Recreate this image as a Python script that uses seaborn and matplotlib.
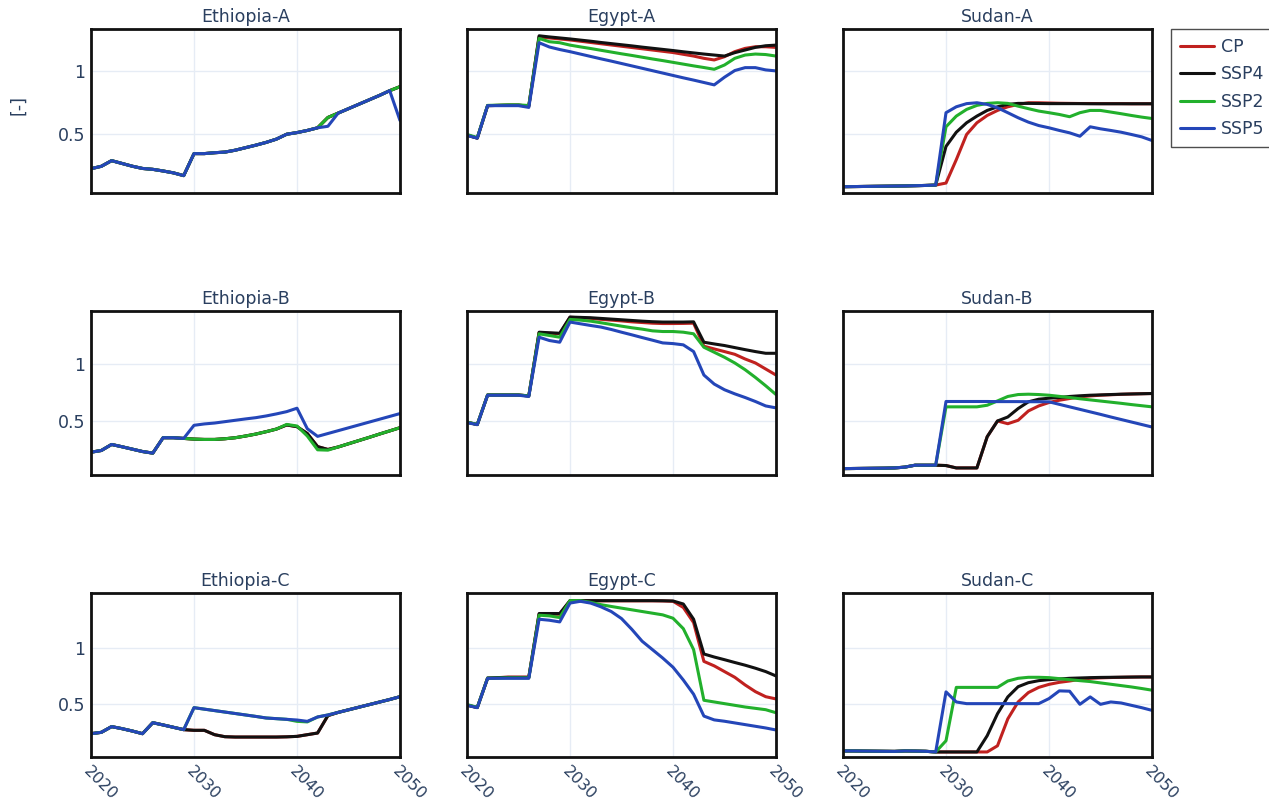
import pandas as pd
import seaborn as sns
import matplotlib.pyplot as plt

years = list(range(2020, 2051))
scenarios = ["CP", "SSP4", "SSP2", "SSP5"]
colors = ["#c0211f", "#111111", "#22b02c", "#2446b8"]

# Ethiopia-A
eth_a_ssp5 = [0.223, 0.242, 0.287, 0.265, 0.243, 0.225, 0.218, 0.205, 0.19, 0.168,
              0.343, 0.343, 0.35, 0.355, 0.37, 0.39, 0.41, 0.432, 0.458, 0.497,
              0.51, 0.527, 0.548, 0.56, 0.665, 0.7, 0.735, 0.77, 0.805, 0.843, 0.606]
eth_a_ssp2 = eth_a_ssp5[:23] + [0.63] + eth_a_ssp5[24:30] + [0.875]
eth_a_ssp4 = list(eth_a_ssp2)
eth_a_cp = list(eth_a_ssp2)

# Egypt-A
egy_a_ssp5 = [0.487, 0.466, 0.724, 0.724, 0.724, 0.724, 0.71, 1.224, 1.19, 1.17,
              1.153, 1.134, 1.115, 1.096, 1.078, 1.059, 1.04, 1.021, 1.002, 0.983,
              0.964, 0.945, 0.927, 0.908, 0.889, 0.95, 1.003, 1.026, 1.026, 1.008, 1.0]
egy_a_ssp2 = [0.495, 0.47, 0.726, 0.728, 0.73, 0.73, 0.725, 1.258, 1.232, 1.224,
              1.205, 1.191, 1.178, 1.164, 1.15, 1.136, 1.123, 1.109, 1.095, 1.082,
              1.068, 1.054, 1.04, 1.027, 1.013, 1.047, 1.1, 1.126, 1.134, 1.13, 1.118]
egy_a_ssp4 = [0.49, 0.466, 0.724, 0.726, 0.728, 0.728, 0.72, 1.279, 1.27, 1.262,
              1.254, 1.245, 1.236, 1.226, 1.217, 1.208, 1.199, 1.189, 1.18, 1.171,
              1.162, 1.152, 1.143, 1.134, 1.126, 1.118, 1.145, 1.166, 1.187, 1.2, 1.205]
egy_a_cp = [0.49, 0.466, 0.724, 0.726, 0.728, 0.728, 0.72, 1.27, 1.262, 1.254,
            1.246, 1.236, 1.226, 1.216, 1.206, 1.196, 1.186, 1.176, 1.166, 1.156,
            1.146, 1.132, 1.118, 1.1, 1.087, 1.113, 1.153, 1.179, 1.192, 1.192, 1.187]

# Sudan-A
sud_a_early = [0.08, 0.081, 0.082, 0.083, 0.084, 0.085, 0.086, 0.088, 0.09, 0.093]
sud_a_ssp5 = sud_a_early + [0.668, 0.715, 0.74, 0.747, 0.734, 0.707, 0.668, 0.628, 0.593, 0.566,
                            0.548, 0.527, 0.508, 0.481, 0.556, 0.54, 0.527, 0.513, 0.495, 0.476, 0.447]
sud_a_ssp2 = sud_a_early + [0.556, 0.641, 0.694, 0.726, 0.742, 0.747, 0.742, 0.72, 0.7, 0.681,
                            0.668, 0.654, 0.636, 0.668, 0.686, 0.686, 0.673, 0.66, 0.646, 0.633, 0.622]
sud_a_ssp4 = sud_a_early + [0.40, 0.513, 0.588, 0.641, 0.686, 0.715, 0.734, 0.742, 0.742, 0.741,
                            0.74, 0.74, 0.74, 0.74, 0.739, 0.739, 0.739, 0.739, 0.739, 0.739, 0.739]
sud_a_cp = sud_a_early + [0.109, 0.295, 0.495, 0.588, 0.646, 0.686, 0.715, 0.734, 0.747, 0.747,
                          0.745, 0.743, 0.742, 0.741, 0.741, 0.74, 0.74, 0.74, 0.739, 0.739, 0.739]

# Ethiopia-B
eth_b_ssp5 = [0.226, 0.241, 0.294, 0.274, 0.253, 0.232, 0.218, 0.353, 0.353, 0.347,
              0.462, 0.474, 0.482, 0.494, 0.506, 0.518, 0.529, 0.544, 0.562, 0.582,
              0.612, 0.432, 0.365, 0.39, 0.415, 0.44, 0.465, 0.49, 0.515, 0.54, 0.565]
eth_b_ssp2 = eth_b_ssp5[:10] + [0.341, 0.338, 0.338, 0.344, 0.353, 0.368, 0.385, 0.406, 0.429, 0.47,
                                0.456, 0.368, 0.247, 0.244, 0.272, 0.3, 0.328, 0.356, 0.385, 0.413, 0.441]
eth_b_ssp4 = eth_b_ssp2[:19] + [0.465, 0.45, 0.39, 0.275, 0.25] + eth_b_ssp2[24:]
eth_b_cp = list(eth_b_ssp4)

# Egypt-B
egy_b_ssp5 = [0.485, 0.468, 0.726, 0.726, 0.726, 0.726, 0.715, 1.235, 1.206, 1.191,
              1.368, 1.353, 1.338, 1.324, 1.303, 1.279, 1.256, 1.232, 1.209, 1.185,
              1.179, 1.168, 1.109, 0.903, 0.824, 0.774, 0.738, 0.706, 0.671, 0.632, 0.615]
egy_b_ssp2 = [0.49, 0.47, 0.728, 0.728, 0.728, 0.728, 0.72, 1.265, 1.25, 1.235,
              1.391, 1.385, 1.376, 1.362, 1.347, 1.332, 1.318, 1.306, 1.291, 1.285,
              1.285, 1.279, 1.265, 1.147, 1.103, 1.059, 1.009, 0.95, 0.882, 0.809, 0.732]
egy_b_ssp4 = [0.49, 0.468, 0.728, 0.728, 0.728, 0.728, 0.72, 1.279, 1.274, 1.27,
              1.412, 1.409, 1.406, 1.4, 1.394, 1.388, 1.382, 1.376, 1.371, 1.368,
              1.368, 1.368, 1.37, 1.191, 1.176, 1.162, 1.144, 1.126, 1.109, 1.094, 1.094]
egy_b_cp = [0.49, 0.468, 0.728, 0.728, 0.728, 0.728, 0.72, 1.275, 1.27, 1.265,
            1.41, 1.405, 1.4, 1.392, 1.385, 1.378, 1.37, 1.364, 1.358, 1.355,
            1.355, 1.356, 1.358, 1.156, 1.132, 1.109, 1.085, 1.044, 1.009, 0.956, 0.903]

# Sudan-B
sud_b_early = [0.082, 0.083, 0.084, 0.085, 0.086, 0.088, 0.095, 0.112, 0.112, 0.112]
sud_b_ssp5 = sud_b_early + [0.671, 0.671, 0.671, 0.671, 0.671, 0.67, 0.67, 0.67, 0.669, 0.669,
                            0.668, 0.646, 0.624, 0.602, 0.58, 0.558, 0.535, 0.513, 0.491, 0.469, 0.447]
sud_b_ssp2 = sud_b_early + [0.624, 0.624, 0.624, 0.624, 0.638, 0.676, 0.715, 0.732, 0.735, 0.732,
                            0.726, 0.716, 0.706, 0.695, 0.685, 0.675, 0.665, 0.655, 0.644, 0.634, 0.624]
sud_b_ssp4 = sud_b_early + [0.109, 0.088, 0.088, 0.088, 0.362, 0.5, 0.535, 0.609, 0.668, 0.691,
                            0.7, 0.706, 0.715, 0.721, 0.726, 0.729, 0.732, 0.735, 0.737, 0.739, 0.741]
sud_b_cp = sud_b_early + [0.109, 0.088, 0.088, 0.088, 0.362, 0.5, 0.476, 0.506, 0.588, 0.632,
                          0.662, 0.682, 0.697, 0.712, 0.72, 0.726, 0.73, 0.734, 0.737, 0.739, 0.741]

# Ethiopia-C
eth_c_ssp5 = [0.235, 0.247, 0.298, 0.28, 0.259, 0.235, 0.333, 0.313, 0.292, 0.271,
              0.467, 0.454, 0.441, 0.428, 0.415, 0.402, 0.389, 0.375, 0.369, 0.363,
              0.357, 0.345, 0.384, 0.402, 0.425, 0.448, 0.471, 0.494, 0.517, 0.54, 0.565]
eth_c_ssp2 = eth_c_ssp5[:20] + [0.345, 0.34] + eth_c_ssp5[22:]
eth_c_ssp4 = eth_c_ssp5[:10] + [0.265, 0.265, 0.226, 0.208, 0.205, 0.205, 0.205, 0.205, 0.205, 0.207,
                                0.211, 0.226, 0.241, 0.396, 0.425, 0.448, 0.471, 0.494, 0.517, 0.54, 0.565]
eth_c_cp = list(eth_c_ssp4)

# Egypt-C
egy_c_ssp5 = [0.488, 0.467, 0.729, 0.729, 0.729, 0.729, 0.729, 1.256, 1.247, 1.232,
              1.4, 1.416, 1.4, 1.367, 1.325, 1.262, 1.166, 1.06, 0.985, 0.91,
              0.828, 0.714, 0.587, 0.392, 0.358, 0.346, 0.331, 0.316, 0.301, 0.286, 0.268]
egy_c_ssp2 = [0.495, 0.47, 0.731, 0.731, 0.733, 0.733, 0.733, 1.292, 1.286, 1.271,
              1.422, 1.422, 1.407, 1.386, 1.37, 1.355, 1.34, 1.325, 1.31, 1.295,
              1.265, 1.172, 0.985, 0.533, 0.518, 0.503, 0.488, 0.473, 0.461, 0.449, 0.422]
egy_c_ssp4 = [0.49, 0.468, 0.731, 0.735, 0.737, 0.737, 0.737, 1.307, 1.307, 1.307,
              1.422, 1.422, 1.422, 1.422, 1.422, 1.422, 1.422, 1.422, 1.422, 1.421,
              1.419, 1.392, 1.256, 0.946, 0.919, 0.895, 0.87, 0.846, 0.819, 0.789, 0.75]
egy_c_cp = [0.49, 0.468, 0.731, 0.735, 0.74, 0.74, 0.74, 1.3, 1.3, 1.3,
            1.42, 1.42, 1.42, 1.42, 1.42, 1.42, 1.42, 1.42, 1.42, 1.419,
            1.416, 1.361, 1.226, 0.88, 0.84, 0.789, 0.738, 0.67, 0.61, 0.565, 0.545]

# Sudan-C
sud_c_early = [0.081, 0.081, 0.08, 0.079, 0.078, 0.077, 0.081, 0.08, 0.078, 0.072]
sud_c_ssp5 = sud_c_early + [0.608, 0.518, 0.503, 0.503, 0.503, 0.503, 0.503, 0.503, 0.503, 0.503,
                            0.548, 0.617, 0.614, 0.497, 0.563, 0.497, 0.518, 0.509, 0.488, 0.467, 0.443]
sud_c_ssp2 = sud_c_early + [0.172, 0.648, 0.648, 0.648, 0.648, 0.648, 0.705, 0.729, 0.738, 0.738,
                            0.735, 0.726, 0.717, 0.708, 0.7, 0.688, 0.676, 0.664, 0.652, 0.638, 0.623]
sud_c_ssp4 = sud_c_early + [0.072, 0.072, 0.072, 0.072, 0.217, 0.413, 0.563, 0.654, 0.69, 0.708,
                            0.717, 0.723, 0.729, 0.732, 0.735, 0.737, 0.738, 0.739, 0.74, 0.741, 0.741]
sud_c_cp = sud_c_early + [0.072, 0.072, 0.072, 0.072, 0.072, 0.127, 0.367, 0.518, 0.602, 0.648,
                          0.675, 0.693, 0.705, 0.72, 0.729, 0.733, 0.736, 0.738, 0.74, 0.741, 0.741]

panels = {
    "Ethiopia-A": [eth_a_cp, eth_a_ssp4, eth_a_ssp2, eth_a_ssp5],
    "Egypt-A": [egy_a_cp, egy_a_ssp4, egy_a_ssp2, egy_a_ssp5],
    "Sudan-A": [sud_a_cp, sud_a_ssp4, sud_a_ssp2, sud_a_ssp5],
    "Ethiopia-B": [eth_b_cp, eth_b_ssp4, eth_b_ssp2, eth_b_ssp5],
    "Egypt-B": [egy_b_cp, egy_b_ssp4, egy_b_ssp2, egy_b_ssp5],
    "Sudan-B": [sud_b_cp, sud_b_ssp4, sud_b_ssp2, sud_b_ssp5],
    "Ethiopia-C": [eth_c_cp, eth_c_ssp4, eth_c_ssp2, eth_c_ssp5],
    "Egypt-C": [egy_c_cp, egy_c_ssp4, egy_c_ssp2, egy_c_ssp5],
    "Sudan-C": [sud_c_cp, sud_c_ssp4, sud_c_ssp2, sud_c_ssp5],
}
row_ylims = [(0.03, 1.333), (0.026, 1.465), (0.027, 1.49)]

rows = []
for name, vals in panels.items():
    for sc, v in zip(scenarios, vals):
        rows += [(name, sc, yr, x) for yr, x in zip(years, v)]
df = pd.DataFrame(rows, columns=["panel", "scenario", "year", "value"])

sns.set_style("white")
plt.rcParams["font.family"] = ["DejaVu Sans"]
txt = "#2a3f5f"
grid = "#e6ecf5"

fig = plt.figure(figsize=(12.69, 8.09), dpi=100)
lefts = [91, 467, 843]
tops = [29, 311, 593]
W, H = 1269, 809
pw, ph = 309, 164

axes = []
for i, name in enumerate(panels):
    r, c = divmod(i, 3)
    ax = fig.add_axes([lefts[c] / W, 1 - (tops[r] + ph) / H, pw / W, ph / H])
    sub = df[df["panel"] == name]
    sns.lineplot(data=sub, x="year", y="value", hue="scenario", hue_order=scenarios,
                 palette=colors, linewidth=2.2, legend=False, ax=ax)
    ax.set_xlim(2020, 2050)
    ax.set_ylim(*row_ylims[r])
    ax.set_xticks([2020, 2030, 2040, 2050])
    ax.set_yticks([0.5, 1])
    ax.grid(True, color=grid, linewidth=1)
    ax.set_axisbelow(True)
    ax.tick_params(length=0, labelsize=12.5, labelcolor=txt)
    ax.tick_params(axis="x", pad=5, labelsize=11.5)
    ax.tick_params(axis="y", pad=4)
    if r < 2:
        ax.set_xticklabels([])
    else:
        plt.setp(ax.get_xticklabels(), rotation=-45, ha="left", va="top",
                 rotation_mode="anchor")
    if c == 0:
        ax.set_yticklabels(["0.5", "1"])
    else:
        ax.set_yticklabels([])
    ax.set_xlabel("")
    ax.set_ylabel("")
    ax.set_title(name, fontsize=12.5, color=txt, pad=5)
    for s in ax.spines.values():
        s.set_visible(True)
        s.set_color("#111111")
        s.set_linewidth(2)
    axes.append(ax)

fig.text(18 / W, 1 - 105 / H, "[-]", rotation=90, fontsize=12.5, color=txt,
         ha="center", va="center")

handles = axes[0].get_lines()[:4]
leg = fig.legend(handles, scenarios, loc="upper left", bbox_to_anchor=(1171 / W, 1 - 29 / H),
                 fontsize=12.5, frameon=True, fancybox=False, handlelength=2.0,
                 handletextpad=0.4, labelspacing=0.55, borderpad=0.5, borderaxespad=0)
leg.get_frame().set_edgecolor("#222222")
leg.get_frame().set_linewidth(1)
for t in leg.get_texts():
    t.set_color(txt)

fig.savefig("out.png", dpi=100)
